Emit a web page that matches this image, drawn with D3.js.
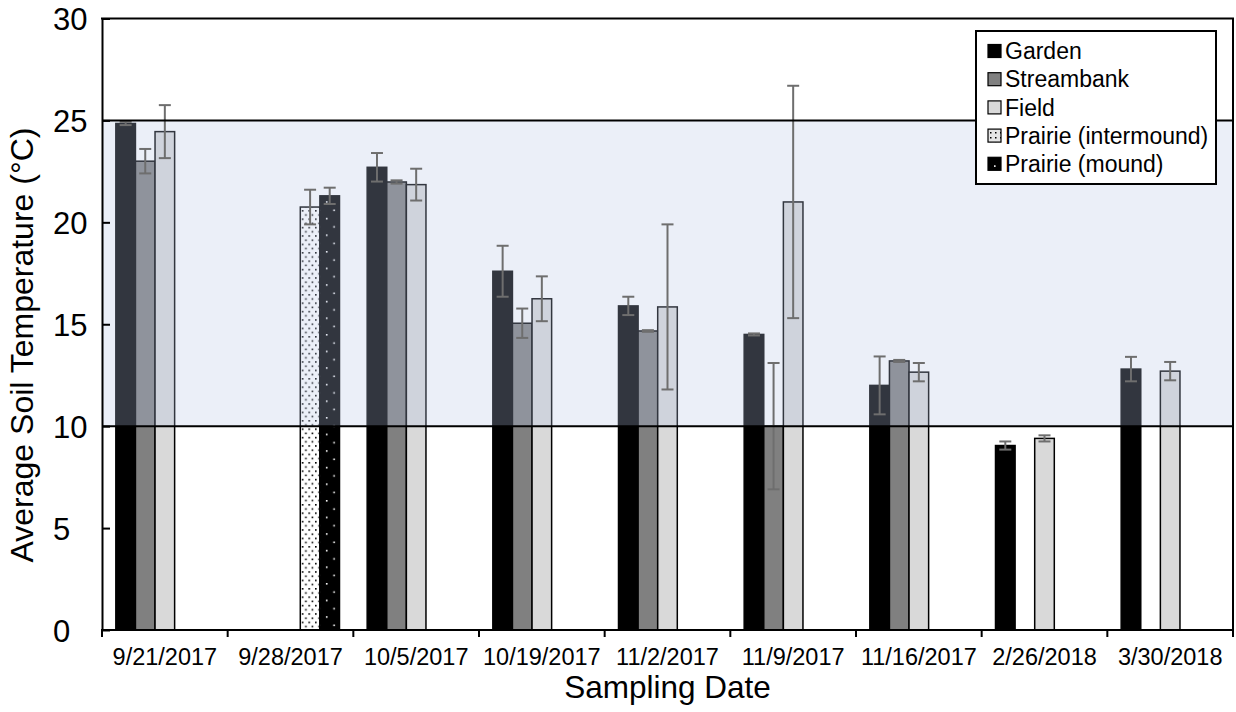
<!DOCTYPE html>
<html>
<head>
<meta charset="utf-8">
<script src="https://cdn.jsdelivr.net/npm/d3@7"></script>
<style>
  html, body { margin: 0; padding: 0; background: #fff; }
  svg { display: block; font-family: "Liberation Sans", Arial, sans-serif; }
</style>
</head>
<body>
<svg id="chart" width="1236" height="712"></svg>
<script>
// ---- data ----
const dates = ["9/21/2017", "9/28/2017", "10/5/2017", "10/19/2017", "11/2/2017",
               "11/9/2017", "11/16/2017", "2/26/2018", "3/30/2018"];
const series = ["Garden", "Streambank", "Field", "Prairie (intermound)", "Prairie (mound)"];

const garden        = [24.85, null, 22.7, 17.6, 15.9, 14.5, 12.0, 9.05, 12.8];
const gardenErr     = [0.08, null, 0.7, 1.25, 0.45, 0.05, 1.42, 0.2, 0.6];
const streambank    = [23.0, null, 21.98, 15.05, 14.67, 10.0, 13.2, null, null];
const streambankErr = [0.6, null, 0.08, 0.72, 0.04, 3.1, 0.05, null, null];
const field         = [24.45, null, 21.85, 16.25, 15.85, 21.0, 12.65, 9.4, 12.7];
const fieldErr      = [1.3, null, 0.78, 1.1, 4.05, 5.7, 0.45, 0.15, 0.45];
const intermound    = [null, 20.75, null, null, null, null, null, null, null];
const intermoundErr = [null, 0.85, null, null, null, null, null, null, null];
const mound         = [null, 21.3, null, null, null, null, null, null, null];
const moundErr      = [null, 0.4, null, null, null, null, null, null, null];

const yTicks = [0, 5, 10, 15, 20, 25, 30];
const bandLow = 10, bandHigh = 25;

// ---- build table ----
const valuesBySeries = [garden, streambank, field, intermound, mound];
const errBySeries = [gardenErr, streambankErr, fieldErr, intermoundErr, moundErr];
const rows = [];
series.forEach((s, si) => {
  dates.forEach((d, di) => {
    const v = valuesBySeries[si][di];
    if (v != null) rows.push({ date: d, series: s, value: v, err: errBySeries[si][di] });
  });
});

// ---- layout ----
const svg = d3.select("#chart");
const mLeft = 102, mRight = 1233, mTop = 18.5, mBottom = 630;

const x0 = d3.scaleBand().domain(dates).range([mLeft, mRight]).paddingInner(0).paddingOuter(0);
const x1 = d3.scaleBand().domain(series).range([0, x0.bandwidth()]).paddingInner(0).paddingOuter(0.706);
const y = d3.scaleLinear().domain([0, 30]).range([mBottom, mTop]);

const fills = {
  "Garden": "#000000",
  "Streambank": "#808080",
  "Field": "#d9d9d9",
  "Prairie (intermound)": "url(#pInter)",
  "Prairie (mound)": "url(#pMound)"
};

// ---- patterns ----
const defs = svg.append("defs");
const moundX = x0(dates[1]) + x1(series[4]) + 6;
const pInter = defs.append("pattern").attr("id", "pInter")
  .attr("patternUnits", "userSpaceOnUse").attr("width", 6.6).attr("height", 8.4)
  .attr("x", x0(dates[1]) + x1(series[3]) + 1.5).attr("y", 0);
pInter.append("rect").attr("width", 6.6).attr("height", 8.4).attr("fill", "#fff");
pInter.append("rect").attr("x", 0).attr("y", 0).attr("width", 1.6).attr("height", 1.6).attr("fill", "#000");
pInter.append("rect").attr("x", 3.3).attr("y", 4.2).attr("width", 1.6).attr("height", 1.6).attr("fill", "#000");

const pMound = defs.append("pattern").attr("id", "pMound")
  .attr("patternUnits", "userSpaceOnUse").attr("width", 14.8).attr("height", 16.6)
  .attr("x", moundX).attr("y", 2);
pMound.append("rect").attr("width", 14.8).attr("height", 16.6).attr("fill", "#000");
pMound.append("rect").attr("x", 0).attr("y", 0).attr("width", 1.6).attr("height", 1.6).attr("fill", "#fff");
pMound.append("rect").attr("x", 7.4).attr("y", 8.3).attr("width", 1.6).attr("height", 1.6).attr("fill", "#fff");

// ---- bars ----
svg.append("g").selectAll("rect").data(rows).join("rect")
  .attr("x", d => x0(d.date) + x1(d.series))
  .attr("y", d => y(d.value))
  .attr("width", x1.bandwidth())
  .attr("height", d => y(0) - y(d.value))
  .attr("fill", d => fills[d.series])
  .attr("stroke", "#000")
  .attr("stroke-width", 1.5);

// ---- shaded band overlay ----
svg.append("rect")
  .attr("x", mLeft).attr("width", mRight - mLeft)
  .attr("y", y(bandHigh)).attr("height", y(bandLow) - y(bandHigh))
  .attr("fill", "rgb(182,196,229)").attr("fill-opacity", 0.275);

// ---- error bars ----
const eg = svg.append("g").attr("stroke", "#6e6e6e").attr("stroke-width", 2);
rows.forEach(d => {
  const cx = x0(d.date) + x1(d.series) + x1.bandwidth() / 2;
  const yt = y(d.value + d.err), yb = y(d.value - d.err);
  eg.append("line").attr("x1", cx).attr("x2", cx).attr("y1", yt).attr("y2", yb);
  eg.append("line").attr("x1", cx - 6).attr("x2", cx + 6).attr("y1", yt).attr("y2", yt);
  eg.append("line").attr("x1", cx - 6).attr("x2", cx + 6).attr("y1", yb).attr("y2", yb);
});

// ---- band boundary lines ----
[bandLow, bandHigh].forEach(v => {
  svg.append("line").attr("x1", mLeft).attr("x2", mRight)
    .attr("y1", y(v)).attr("y2", y(v))
    .attr("stroke", "#000").attr("stroke-width", 2);
});

// ---- axes ----
const yAxis = svg.append("g").attr("transform", `translate(${mLeft},0)`)
  .call(d3.axisLeft(y).tickValues(yTicks).tickSizeInner(-8).tickSizeOuter(0).tickPadding(13));
yAxis.select(".domain").attr("stroke", "#000").attr("stroke-width", 2);
yAxis.selectAll(".tick line").attr("stroke", "#000").attr("stroke-width", 2);
yAxis.selectAll(".tick text").attr("font-size", 31).attr("fill", "#000")
  .attr("font-family", "Liberation Sans, Arial, sans-serif").attr("dy", "0.36em")
  .attr("text-anchor", "start").attr("x", 53 - mLeft);

const xAxis = svg.append("g").attr("transform", `translate(0,${mBottom})`)
  .call(d3.axisBottom(x0).tickSize(0).tickPadding(18));
xAxis.select(".domain").remove();
xAxis.selectAll(".tick text").attr("font-size", 23.5).attr("fill", "#000")
  .attr("font-family", "Liberation Sans, Arial, sans-serif");
// axis line & boundary ticks
svg.append("line").attr("x1", mLeft - 1).attr("x2", mRight).attr("y1", mBottom).attr("y2", mBottom)
  .attr("stroke", "#000").attr("stroke-width", 2);
const bounds = dates.map(d => x0(d)).concat([x0.range()[1]]);
svg.append("g").selectAll("line").data(bounds).join("line")
  .attr("x1", d => d).attr("x2", d => d).attr("y1", mBottom).attr("y2", mBottom + 7)
  .attr("stroke", "#000").attr("stroke-width", 2);

// frame top & right
svg.append("line").attr("x1", mLeft - 1).attr("x2", mRight + 1).attr("y1", y(30)).attr("y2", y(30))
  .attr("stroke", "#000").attr("stroke-width", 2);
svg.append("line").attr("x1", mRight).attr("x2", mRight).attr("y1", y(30)).attr("y2", mBottom)
  .attr("stroke", "#000").attr("stroke-width", 2);

// ---- axis titles ----
svg.append("text").attr("x", (mLeft + mRight) / 2).attr("y", 698)
  .attr("text-anchor", "middle").attr("font-size", 31.5).attr("fill", "#000")
  .text("Sampling Date");
svg.append("text").attr("transform", `translate(33,${345}) rotate(-90)`)
  .attr("text-anchor", "middle").attr("font-size", 32).attr("fill", "#000")
  .text("Average Soil Temperature (°C)");

// ---- legend ----
const lg = svg.append("g");
lg.append("rect").attr("x", 976).attr("y", 31).attr("width", 240).attr("height", 153)
  .attr("fill", "#fff").attr("stroke", "#000").attr("stroke-width", 2);
const lgFills = ["#000000", "#808080", "#d9d9d9", "url(#pInterL)", "#000"];
const pInterL = defs.append("pattern").attr("id", "pInterL")
  .attr("patternUnits", "userSpaceOnUse").attr("width", 5).attr("height", 5).attr("x", 988).attr("y", 130);
pInterL.append("rect").attr("width", 5).attr("height", 5).attr("fill", "#e6e6e6");
pInterL.append("rect").attr("x", 2).attr("y", 2).attr("width", 1.5).attr("height", 1.5).attr("fill", "#000");
series.forEach((s, i) => {
  const cy = 51 + i * 28.2;
  lg.append("rect").attr("x", 988).attr("y", cy - 6.5).attr("width", 13).attr("height", 13)
    .attr("fill", lgFills[i]).attr("stroke", "#000").attr("stroke-width", 1.2);
  if (i === 4) {
    lg.append("rect").attr("x", 994).attr("y", cy + 1.5).attr("width", 1.6).attr("height", 1.6).attr("fill", "#fff");
  }
  lg.append("text").attr("x", 1005).attr("y", cy).attr("dy", "0.36em")
    .attr("font-size", 23).attr("fill", "#000").text(s);
});
</script>
</body>
</html>
